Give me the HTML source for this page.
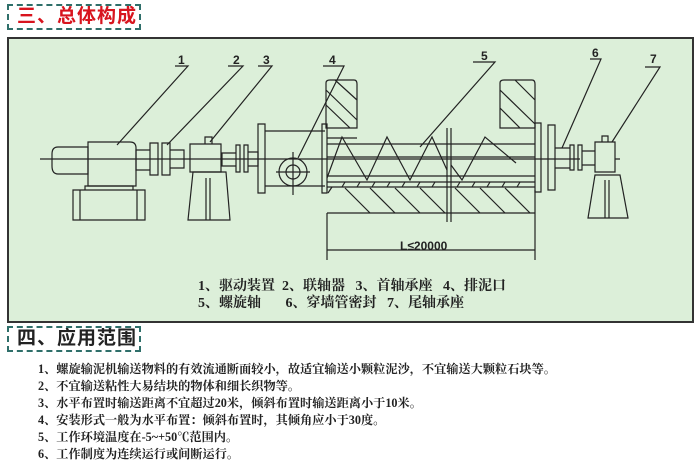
<!DOCTYPE html>
<html><head><meta charset="utf-8"><style>
body{margin:0;width:700px;height:459px;background:#fff;overflow:hidden;position:relative;font-family:"Liberation Serif","Noto Serif CJK SC",serif}
.h{position:absolute;border:2px dashed #2f6f6a;font-family:"Liberation Sans","Noto Sans CJK SC",sans-serif;font-weight:bold;font-size:19px;line-height:22px;padding:0 8px;letter-spacing:1px;white-space:nowrap;overflow:hidden}
.panel{position:absolute;left:7px;top:37px;width:683px;height:282px;border:2px solid #333;background:#dcefd9}
.li{position:absolute;left:38px;font-size:12.2px;font-weight:bold;color:#222;white-space:nowrap}
</style></head><body>
<div class="h" style="left:7px;top:4px;width:114px;height:22px;color:#d8141e">三、总体构成</div>
<div class="panel"></div>
<svg style="position:absolute;left:0;top:0" width="700" height="330" stroke="#222" fill="none" stroke-width="1.2">
<g font-family="Liberation Sans,sans-serif" font-weight="bold" font-size="12" fill="#222" stroke="none">
<text x="178" y="64">1</text><text x="233" y="64">2</text><text x="263" y="64">3</text><text x="329" y="64">4</text><text x="481" y="60">5</text><text x="592" y="57">6</text><text x="650" y="63">7</text>
<text x="400" y="250">L≤20000</text></g>
<path d="M175 66H188L117 145M228 66H243L167 145M258 66H272L210 142M323 66H344L298 158M473 62H495L420 147M590 59H601L562 148M645 67H660L612 142"/>
<path d="M40 159H270"/>
<path d="M58 147H88V174H58Q52 174 52 166V154Q52 147 58 147Z"/>
<path d="M88 142H130Q136 142 136 148V186H88Z"/>
<path d="M85 186H133V190H85Z M73 190H145V220H73Z M80 190V220M137 190V220"/>
<path d="M136 150H150V170H136Z M150 143H158V175H150Z M162 143H170V175H162Z M170 150H184V168H170Z"/>
<path d="M190 144H221V172H190Z M205 137H212V144H205Z"/>
<path d="M193 172H226L230 220H188Z M206 178V220M210 178V220"/>
<path d="M222 153H236V166H222Z M236 145H240V172H236Z M244 145H248V172H244Z M248 152H258V166H248Z"/>
<path d="M258 124H265V193H258Z M265 131H325M265 186H325"/>
<circle cx="293" cy="172" r="14"/><circle cx="293" cy="172" r="7"/><path d="M276 172H310M293 152V195"/>
<path d="M322 124H327V193H322Z"/>
<path d="M326 128V83Q326 80 330 80H354Q357 80 357 84V128Z M326 90L357 120M326 105L350 128M335 80L357 100"/>
<path d="M327 138H357M500 128V83Q500 80 504 80H532Q535 80 535 84V128Z M500 90L535 124M515 80L535 100M500 108L520 128"/>
<path d="M327 144H535M270 159H580M327 157H535M327 176H535M327 182H535M327 187H535M327 213H535M327 213V260M535 190V260M327 250H535"/>
<path d="M332 187L328 193M345 182l-3 5M360 182l-3 5M375 182l-3 5M390 182l-3 5M405 182l-3 5M420 182l-3 5M435 182l-3 5M460 182l-3 5M475 182l-3 5M490 182l-3 5M505 182l-3 5M520 182l-3 5 M345 188L370 213M370 188L395 213M395 188L420 213M420 188L445 213M455 188L480 213M480 188L505 213M505 188L530 213"/>
<path d="M447 128V222M451 128V222"/>
<path d="M327 178L342 137L367 180L387 137L410 180L432 137L447 170M451 165L462 180L485 137L516 163"/>
<path d="M535 123H541V192H535Z M548 125H555V190H548Z M555 148H570V168H555Z M570 145H574V170H570Z M578 145H582V170H578Z M582 151H595V165H582Z M595 142H615V172H595Z M602 136H608V142H602Z M615 159H620"/>
<path d="M595 175H620L628 218H588Z M605 180V218M609 180V218"/>
<g font-size="14" font-weight="bold" fill="#222" stroke="none" font-family="Liberation Serif,Noto Serif CJK SC,serif">
<text x="198" y="290" xml:space="preserve">1、驱动装置  2、联轴器   3、首轴承座   4、排泥口</text>
<text x="198" y="307" xml:space="preserve">5、螺旋轴       6、穿墙管密封   7、尾轴承座</text></g>
</svg>
<div class="h" style="left:7px;top:326px;width:114px;height:22px;color:#222">四、应用范围</div>
<div class="li" style="top:360px">1、螺旋输泥机输送物料的有效流通断面较小，故适宜输送小颗粒泥沙，不宜输送大颗粒石块等。</div>
<div class="li" style="top:377px">2、不宜输送粘性大易结块的物体和细长织物等。</div>
<div class="li" style="top:394px">3、水平布置时输送距离不宜超过20米，倾斜布置时输送距离小于10米。</div>
<div class="li" style="top:411px">4、安装形式一般为水平布置：倾斜布置时，其倾角应小于30度。</div>
<div class="li" style="top:428px">5、工作环境温度在-5~+50℃范围内。</div>
<div class="li" style="top:445px">6、工作制度为连续运行或间断运行。</div>
</body></html>
